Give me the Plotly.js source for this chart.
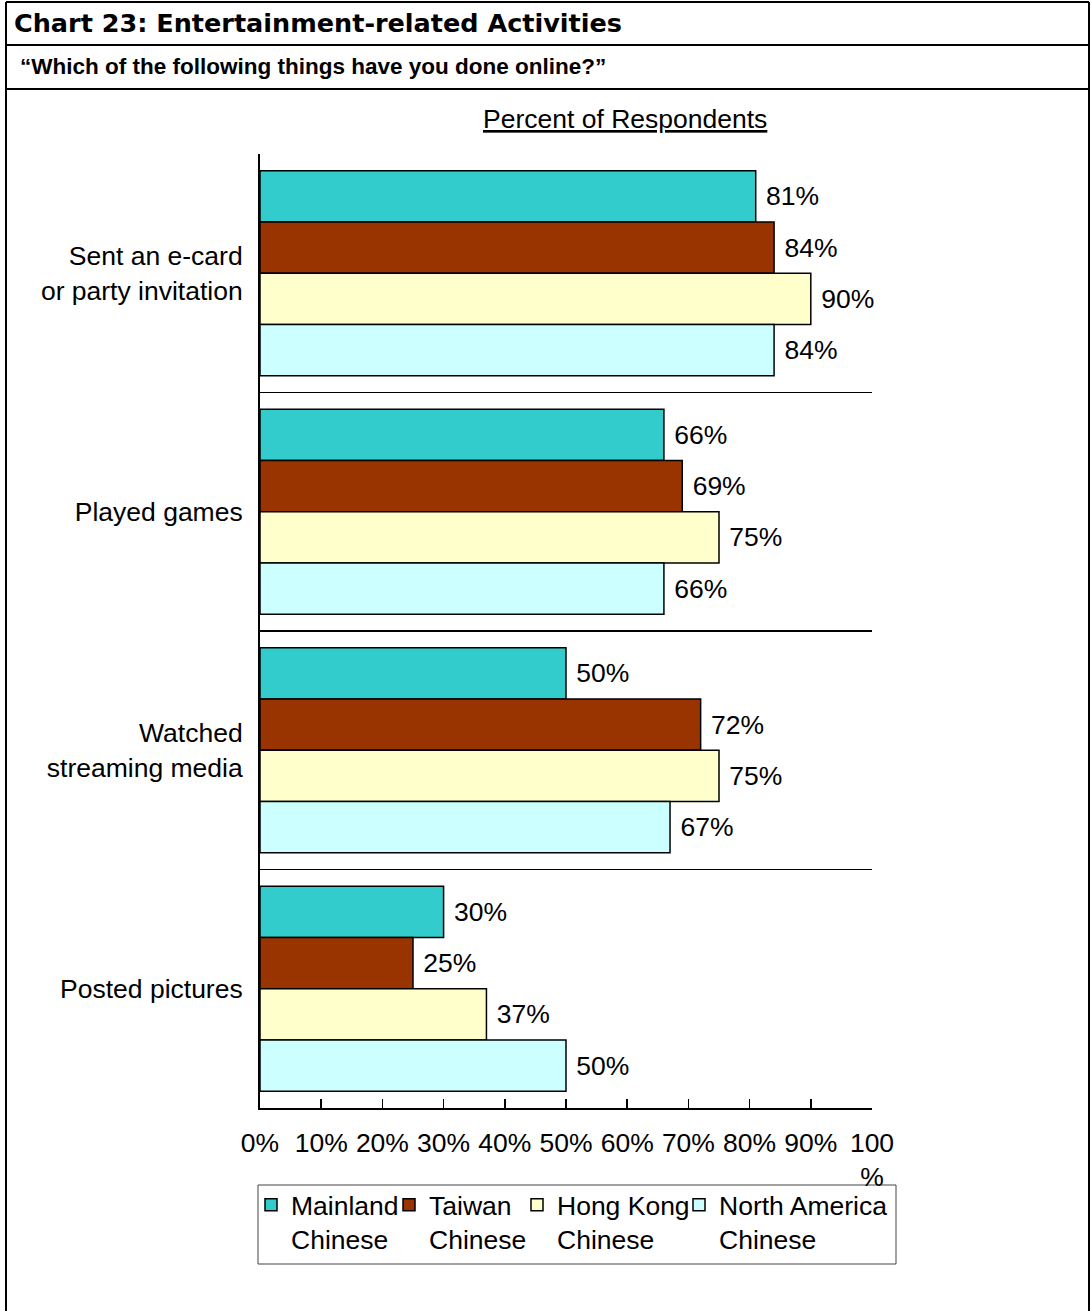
<!DOCTYPE html>
<html>
<head>
<meta charset="utf-8">
<script src="https://cdn.plot.ly/plotly-3.0.1.min.js"></script>
<style>html,body{margin:0;padding:0;background:#fff;}#chart{width:1091px;height:1311px;}</style>
</head>
<body>
<div id="chart"></div>
<script>
// ---- data ----
const categories = ["Sent an e-card<br>or party invitation", "Played games", "Watched<br>streaming media", "Posted pictures"];
const seriesNames = ["Mainland<br>Chinese", "Taiwan<br>Chinese", "Hong Kong<br>Chinese", "North America<br>Chinese"];
const mainland = [81, 66, 50, 30];
const taiwan = [84, 69, 72, 25];
const hongKong = [90, 75, 75, 37];
const northAmerica = [84, 66, 67, 50];
const tickVals = [0, 10, 20, 30, 40, 50, 60, 70, 80, 90, 100];
const tickText = ["0%", "10%", "20%", "30%", "40%", "50%", "60%", "70%", "80%", "90%", "100<br>%"];
const chartTitle = "Chart 23: Entertainment-related Activities";
const question = "\u201cWhich of the following things have you done online?\u201d";
const axisCaption = "Percent of Respondents";

// ---- styles ----
const colors = ["#33CCCC", "#993300", "#FFFFCC", "#CCFFFF"];
const FONT = "Arial, 'Liberation Sans', sans-serif";
const FS = 26.5;
const W = 1091, H = 1311;
const L = 260, R = 872, T = 154, B = 1108;
const px = x => (x - L) / (R - L);
const py = y => (B - y) / (B - T);

const legendIds = ["legend", "legend2", "legend3", "legend4"];
const legendLeft = [251, 389, 517, 679];

const values = [mainland, taiwan, hongKong, northAmerica];
const traces = values.map((v, i) => ({
  type: "bar",
  orientation: "h",
  name: seriesNames[i],
  legend: legendIds[i],
  y: categories,
  x: v,
  text: v.map(n => " " + n + "%"),
  textposition: "outside",
  textfont: {family: FONT, size: FS, color: "#000"},
  cliponaxis: false,
  marker: {color: colors[i], line: {color: "#000", width: 1.5}},
  hoverinfo: "x+name"
}));

const borderLine = (x0, y0, x1, y1, w) => ({
  type: "line", xref: "paper", yref: "paper",
  x0: px(x0), y0: py(y0), x1: px(x1), y1: py(y1),
  line: {color: "#000", width: w}
});

const layout = {
  width: W, height: H,
  margin: {l: L, r: W - R, t: T, b: H - B, pad: 0},
  paper_bgcolor: "#fff", plot_bgcolor: "#fff",
  font: {family: FONT, size: FS, color: "#000"},
  barmode: "group",
  bargap: 0.14,
  bargroupgap: 0,
  showlegend: true,
  xaxis: {
    range: [0, 100], fixedrange: true,
    tickvals: tickVals, ticktext: tickText,
    ticks: "inside", ticklen: 9, tickwidth: 1.5, tickcolor: "#000",
    showline: true, linecolor: "#000", linewidth: 2,
    showgrid: false, zeroline: false,
    ticklabelstandoff: 10,
    tickfont: {family: FONT, size: FS, color: "#000"}
  },
  yaxis: {
    type: "category",
    autorange: "reversed", fixedrange: true,
    tickson: "boundaries",
    ticks: "", showgrid: true, gridcolor: "#000", gridwidth: 1.5,
    showline: true, linecolor: "#000", linewidth: 2,
    zeroline: false,
    ticklabelstandoff: 10,
    tickfont: {family: FONT, size: FS, color: "#000"}
  },
  shapes: [
    borderLine(6, 2, 1089, 2, 2),
    borderLine(6, 45, 1089, 45, 2),
    borderLine(6, 89, 1089, 89, 2),
    borderLine(6, 2, 6, 1311, 2),
    borderLine(1089, 2, 1089, 1311, 2),
    {type: "rect", xref: "paper", yref: "paper",
     x0: px(258), y0: py(1185), x1: px(896), y1: py(1264),
     line: {color: "#444", width: 1}, fillcolor: "rgba(0,0,0,0)", layer: "below"}
  ],
  annotations: [
    {xref: "paper", yref: "paper", x: px(12), y: py(23), xanchor: "left", yanchor: "middle",
     text: "<b>" + chartTitle + "</b>", showarrow: false,
     font: {family: "'DejaVu Sans', sans-serif", size: 25.5, color: "#000"}},
    {xref: "paper", yref: "paper", x: px(18), y: py(67), xanchor: "left", yanchor: "middle",
     text: "<b>" + question + "</b>", showarrow: false,
     font: {family: FONT, size: 22.5, color: "#000"}},
    {xref: "paper", yref: "paper", x: px(625), y: py(119), xanchor: "center", yanchor: "middle",
     text: "<u>" + axisCaption + "</u>", showarrow: false,
     font: {family: FONT, size: FS, color: "#000"}}
  ]
};

legendIds.forEach((id, i) => {
  layout[id] = {
    orientation: "h",
    x: px(legendLeft[i]), y: py(1181), xanchor: "left", yanchor: "top",
    borderwidth: 0, bgcolor: "rgba(0,0,0,0)",
    font: {family: FONT, size: FS, color: "#000"},
    valign: "top",
    itemwidth: 30
  };
});

Plotly.newPlot("chart", traces, layout, {displayModeBar: false, staticPlot: true});
</script>
</body>
</html>
